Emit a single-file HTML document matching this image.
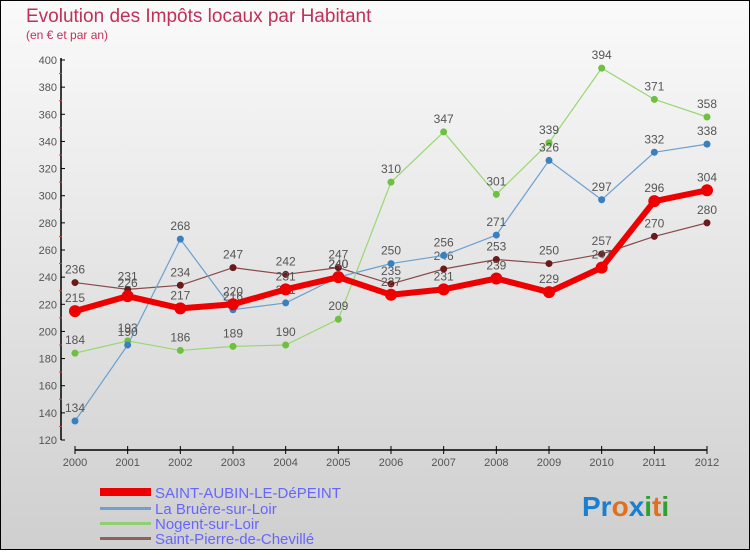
<!DOCTYPE html>
<html><head><meta charset="utf-8"><style>
body{margin:0;width:750px;height:550px;overflow:hidden;font-family:"Liberation Sans",sans-serif}
svg text{font-family:"Liberation Sans",sans-serif}
</style></head><body>
<svg id="c" width="750" height="550" xmlns="http://www.w3.org/2000/svg">
<defs><linearGradient id="bg" x1="0" y1="0" x2="0" y2="1"><stop offset="0" stop-color="#fafafa"/><stop offset="1" stop-color="#cfcfcf"/></linearGradient></defs>
<rect x="0.5" y="0.5" width="749" height="549" fill="url(#bg)" stroke="#000"/>
<text x="26" y="22" font-size="19" fill="#c0305a">Evolution des Impôts locaux par Habitant</text>
<text x="26" y="39" font-size="12" fill="#c0305a">(en € et par an)</text>
<g id="axes"></g><g id="series"></g>
<g>
<rect x="100" y="488" width="51" height="8" fill="#e00"/>
<text x="155" y="498" font-size="15" fill="#66f">SAINT-AUBIN-LE-DéPEINT</text>
<rect x="100" y="507" width="51" height="3" fill="#6fa0d0"/>
<text x="155" y="514" font-size="15" fill="#66f">La Bruère-sur-Loir</text>
<rect x="100" y="522" width="51" height="3" fill="#90d070"/>
<text x="155" y="529" font-size="15" fill="#66f">Nogent-sur-Loir</text>
<rect x="100" y="537" width="51" height="3" fill="#906060"/>
<text x="155" y="544" font-size="15" fill="#66f">Saint-Pierre-de-Chevillé</text>
</g>
<text x="582" y="516" font-size="28" font-weight="bold"><tspan fill="#1a7fd0">Pr</tspan><tspan fill="#e07020">o</tspan><tspan fill="#1a7fd0">x</tspan><tspan fill="#30a030">i</tspan><tspan fill="#e07020">t</tspan><tspan fill="#30a030">i</tspan></text>
</svg>
<script>
const years=[2000,2001,2002,2003,2004,2005,2006,2007,2008,2009,2010,2011,2012];
const yTicks=[120,140,160,180,200,220,240,260,280,300,320,340,360,380,400];
const saintAubin=[215,226,217,220,231,240,227,231,239,229,247,296,304];
const laBruere=[134,190,268,216,221,240,250,256,271,326,297,332,338];
const nogent=[184,193,186,189,190,209,310,347,301,339,394,371,358];
const saintPierre=[236,231,234,247,242,247,235,246,253,250,257,270,280];
const NS="http://www.w3.org/2000/svg";
const X=i=>75+i*(707-75)/(years.length-1);
const Y=v=>440-(v-120)*(380/280);
function mk(t,a,p){const e=document.createElementNS(NS,t);for(const k in a)e.setAttribute(k,a[k]);p.appendChild(e);return e;}
const ax=document.getElementById('axes');
let e=mk('line',{x1:61,y1:58,x2:61,y2:440,stroke:'#000','stroke-width':1.5},ax);


e=mk('line',{x1:75,y1:450,x2:707,y2:450,stroke:'#000','stroke-width':1.5},ax);


yTicks.forEach((v,i)=>{
 mk('line',{x1:61,y1:Y(v),x2:65,y2:Y(v),stroke:'#000'},ax);
 if(i<yTicks.length-1)mk('line',{x1:59,y1:Y(v+10),x2:62,y2:Y(v+10),stroke:'#e33'},ax);
 const t=mk('text',{x:57,y:Y(v)+4,'font-size':11,'text-anchor':'end',fill:'#555'},ax);t.textContent=v;
 
 
});
years.forEach((y,i)=>{
 mk('line',{x1:X(i),y1:446,x2:X(i),y2:454,stroke:'#000'},ax);
 const t=mk('text',{x:X(i),y:466,'font-size':11,'text-anchor':'middle',fill:'#555'},ax);t.textContent=y;
 
 
});
const sg=document.getElementById('series');
function draw(data,col,w,r,name,dot){
 const g=mk('g',{},sg);
 
 
 mk('polyline',{points:data.map((v,i)=>X(i)+','+Y(v)).join(' '),fill:'none',stroke:col,'stroke-width':w,'stroke-linejoin':'round'},g);
 data.forEach((v,i)=>{
  const c=mk('circle',{cx:X(i),cy:Y(v),r:r,fill:dot},g);
  
  
  const t=mk('text',{x:X(i),y:Y(v)-9,'font-size':12,'text-anchor':'middle',fill:'#555'},g);t.textContent=v;
  
  
 });
}
draw(saintPierre,'#8a4a4a',1.2,3.5,'series-saint-pierre','#6a1a1a');
draw(nogent,'#98d870',1.2,3.5,'series-nogent','#70c040');
draw(laBruere,'#6aa0d0',1.2,3.5,'series-la-bruere','#3a80c0');
draw(saintAubin,'#ee0000',6,6,'series-saint-aubin','#ee0000');
</script>
</body></html>
